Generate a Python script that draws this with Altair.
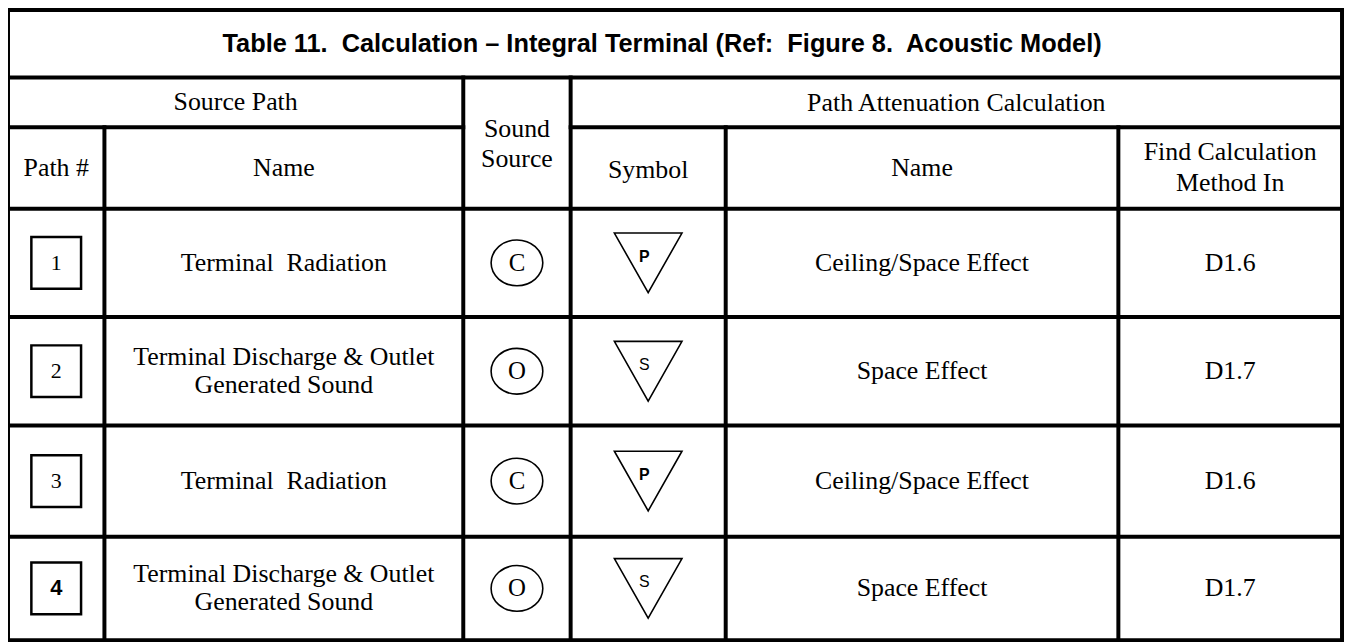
import altair as alt
import pandas as pd

# ---------------- content ----------------
title = "Table 11.\u00a0 Calculation \u2013 Integral Terminal (Ref:\u00a0 Figure 8.\u00a0 Acoustic Model)"
group_headers = ["Source Path", "Sound\nSource", "Path Attenuation Calculation"]
column_headers = ["Path #", "Name", "Symbol", "Name", "Find Calculation\nMethod In"]
path_numbers = ["1", "2", "3", "4"]
path_names = [
    "Terminal\u00a0 Radiation",
    "Terminal Discharge & Outlet\nGenerated Sound",
    "Terminal\u00a0 Radiation",
    "Terminal Discharge & Outlet\nGenerated Sound",
]
sound_sources = ["C", "O", "C", "O"]
symbol_letters = ["P", "S", "P", "S"]
atten_names = ["Ceiling/Space Effect", "Space Effect", "Ceiling/Space Effect", "Space Effect"]
methods = ["D1.6", "D1.7", "D1.6", "D1.7"]

# ---------------- layout (pixels of the table) ----------------
col_x = [6, 103, 464, 572, 728, 1123, 1348]
row_y = [6, 74, 124, 206, 315, 424, 536, 640]
W, H = 1345, 635
X0, Y0 = 6, 6
HDR_LH = 31
NAME_LH = 28

def cx(i):
    return (col_x[i] + col_x[i + 1]) / 2

def nlines(s):
    return s.count("\n") + 1

data_rows = row_y[3:]
row_c = [(data_rows[i] + data_rows[i + 1]) / 2 for i in range(4)]

xs = alt.Scale(domain=[X0, X0 + W], nice=False, zero=False)
ys = alt.Scale(domain=[Y0, Y0 + H], nice=False, zero=False, reverse=True)

def X(f="x"):
    return alt.X(f"{f}:Q", scale=xs, axis=None)

def Y(f="y"):
    return alt.Y(f"{f}:Q", scale=ys, axis=None)

# grid lines
L, R, T, B = col_x[0], col_x[-1], row_y[0], row_y[-1]
segs = []
for y in [row_y[0], row_y[1], row_y[3], row_y[4], row_y[5], row_y[6], row_y[7]]:
    segs.append((L, R, y, y))
segs.append((col_x[0], col_x[2], row_y[2], row_y[2]))
segs.append((col_x[3], col_x[6], row_y[2], row_y[2]))
segs.append((col_x[0], col_x[0], T, B))
segs.append((col_x[6], col_x[6], T, B))
segs.append((col_x[1], col_x[1], row_y[2], B))
segs.append((col_x[2], col_x[2], row_y[1], B))
segs.append((col_x[3], col_x[3], row_y[1], B))
segs.append((col_x[4], col_x[4], row_y[2], B))
segs.append((col_x[5], col_x[5], row_y[2], B))
seg_df = pd.DataFrame(segs, columns=["x", "x2", "y", "y2"])

rules = alt.Chart(seg_df).mark_rule(color="black", strokeWidth=4, strokeCap="square").encode(
    x=X("x"), x2="x2:Q", y=Y("y"), y2="y2:Q"
)

# header texts
hdr_texts = group_headers + column_headers
hdr_yc = [99, 141, 100, 165, 165, 167, 165, 165]
hdr_df = pd.DataFrame({
    "t": hdr_texts,
    "x": [(col_x[0] + col_x[2]) / 2, cx(2), (col_x[3] + col_x[6]) / 2,
          cx(0), cx(1), cx(3), cx(4), cx(5)],
    "y": [yc - (nlines(t) - 1) * HDR_LH / 2 for t, yc in zip(hdr_texts, hdr_yc)],
})
hdr = alt.Chart(hdr_df).mark_text(
    font="Liberation Serif", fontSize=26, lineBreak="\n", lineHeight=HDR_LH,
    align="center", baseline="middle", color="black"
).encode(x=X(), y=Y(), text="t:N")

title_df = pd.DataFrame({"t": [title], "x": [664], "y": [40]})
ttl = alt.Chart(title_df).mark_text(
    font="Liberation Sans", fontSize=25.5, fontWeight="bold",
    align="center", baseline="middle", color="black"
).encode(x=X(), y=Y(), text="t:N")

# body rows
body = pd.DataFrame({
    "num": path_numbers,
    "name": path_names,
    "src": sound_sources,
    "sym": symbol_letters,
    "att": atten_names,
    "meth": methods,
    "yc": row_c,
})
body["bx"] = cx(0) - 25
body["bx2"] = cx(0) + 25
body["by"] = body["yc"] - 26
body["by2"] = body["yc"] + 26
body["xnum"] = cx(0)
body["xname"] = cx(1)
body["yname"] = [yc - (nlines(t) - 1) * NAME_LH / 2 for t, yc in zip(path_names, row_c)]
body["xsrc"] = cx(2)
body["xsym"] = cx(3)
body["xsl"] = cx(3) - 4
body["ysl"] = body["yc"] - 6
body["xatt"] = cx(4)
body["xmeth"] = cx(5)

base = alt.Chart(body)

boxes = base.mark_rect(fill="white", stroke="black", strokeWidth=2.5).encode(
    x=X("bx"), x2="bx2:Q", y=Y("by"), y2="by2:Q"
)
nums_serif = base.transform_filter("datum.num != '4'").mark_text(
    font="Liberation Serif", fontSize=22, align="center", baseline="middle", color="black"
).encode(x=X("xnum"), y=Y("yc"), text="num:N")
nums_sans = base.transform_filter("datum.num == '4'").mark_text(
    font="Liberation Sans", fontSize=22, fontWeight="bold", align="center", baseline="middle", color="black"
).encode(x=X("xnum"), y=Y("yc"), text="num:N")

names = base.mark_text(
    font="Liberation Serif", fontSize=26, lineBreak="\n", lineHeight=NAME_LH,
    align="center", baseline="middle", color="black"
).encode(x=X("xname"), y=Y("yname"), text="name:N")

ellipse = "M -1 0 A 1 0.885 0 1 1 1 0 A 1 0.885 0 1 1 -1 0 Z"
circles = base.mark_point(shape=ellipse, size=52 * 52, filled=False, color="black",
                          strokeWidth=1.6, opacity=1).encode(x=X("xsrc"), y=Y("yc"))
src_txt = base.mark_text(font="Liberation Serif", fontSize=25, align="center",
                         baseline="middle", color="black").encode(
    x=X("xsrc"), y=Y("yc"), text="src:N")

tri = "M -1 -0.882 L 1 -0.882 L 0 0.882 Z"
triangles = base.mark_point(shape=tri, size=68 * 68, filled=False, color="black",
                            strokeWidth=1.6, opacity=1).encode(x=X("xsym"), y=Y("yc"))
sym_p = base.transform_filter("datum.sym == 'P'").mark_text(
    font="Liberation Sans", fontSize=16, fontWeight="bold", align="center",
    baseline="middle", color="black").encode(x=X("xsl"), y=Y("ysl"), text="sym:N")
sym_s = base.transform_filter("datum.sym != 'P'").mark_text(
    font="Liberation Sans", fontSize=16, align="center",
    baseline="middle", color="black").encode(x=X("xsl"), y=Y("ysl"), text="sym:N")

atts = base.mark_text(font="Liberation Serif", fontSize=26, align="center",
                      baseline="middle", color="black").encode(
    x=X("xatt"), y=Y("yc"), text="att:N")
meths = base.mark_text(font="Liberation Serif", fontSize=26, align="center",
                       baseline="middle", color="black").encode(
    x=X("xmeth"), y=Y("yc"), text="meth:N")

chart = alt.layer(
    boxes, rules, hdr, ttl, nums_serif, nums_sans, names, circles, src_txt,
    triangles, sym_p, sym_s, atts, meths
).properties(
    width=W, height=H, autosize=alt.AutoSizeParams(type="none"), padding=0,
    background="white"
).configure_view(stroke=None)

chart.save("out.html", embed_options={"renderer": "svg", "actions": False})
